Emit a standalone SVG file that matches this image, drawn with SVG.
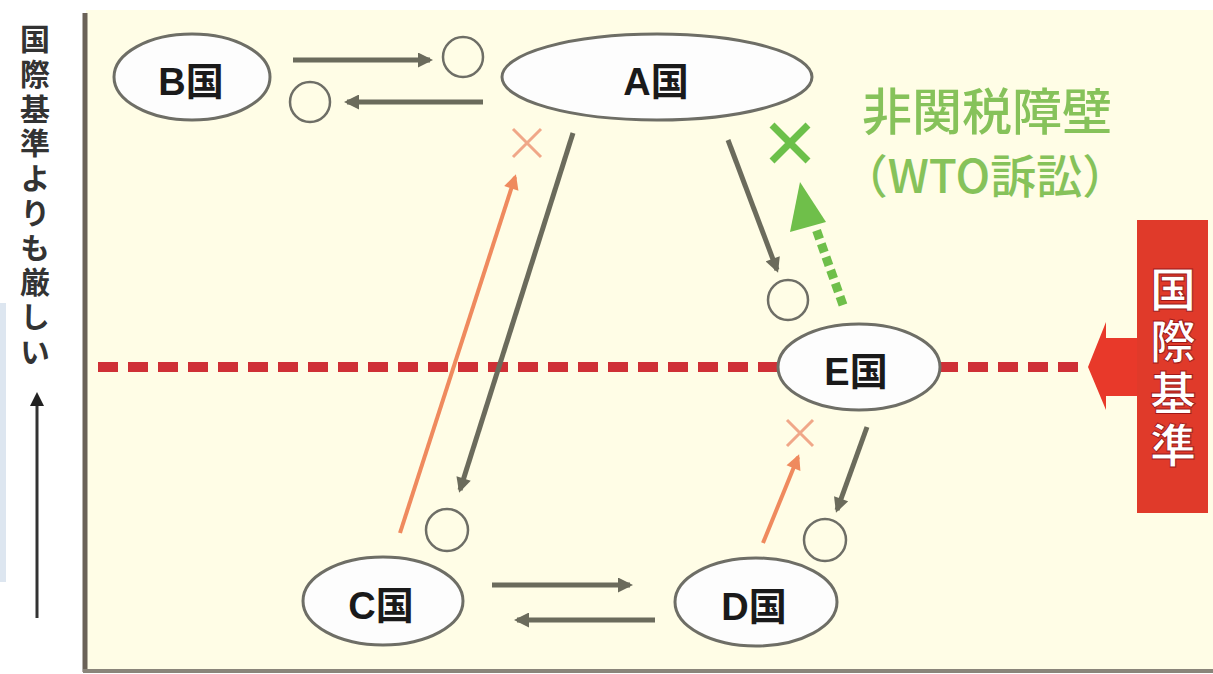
<svg xmlns="http://www.w3.org/2000/svg" width="1213" height="674" viewBox="0 0 1213 674">
<style>
.node{fill:#fdfdfd;stroke:#6e6e66;stroke-width:3}
.lbl{font-family:"Liberation Sans","Noto Sans CJK JP",sans-serif;font-size:38px;font-weight:bold;fill:#1a1a1a;text-anchor:middle}
.circ{fill:none;stroke:#6e6e66;stroke-width:2.5}
.ga{stroke:#6b6b5c;stroke-width:5;fill:none}
.oa{stroke:#ef8a5e;stroke-width:4;fill:none}
.ox{stroke:#f0a788;stroke-width:3;fill:none}
.grn{font-family:"Noto Sans CJK JP",sans-serif;font-weight:500;fill:#86c25a;text-anchor:middle}
</style>
<defs>
<marker id="ag" viewBox="0 0 10 10" refX="8" refY="5" markerWidth="16" markerHeight="15" markerUnits="userSpaceOnUse" orient="auto"><path d="M0,0 L10,5 L0,10 z" fill="#6b6b5c"/></marker>
<marker id="ao" viewBox="0 0 10 10" refX="8" refY="5" markerWidth="16" markerHeight="15" markerUnits="userSpaceOnUse" orient="auto"><path d="M0,0 L10,5 L0,10 z" fill="#ef8a5e"/></marker>
</defs>
<rect x="0" y="0" width="1213" height="674" fill="#ffffff"/>
<rect x="86" y="10" width="1127" height="662" fill="#fffde6"/>
<rect x="0" y="303" width="6" height="279" fill="#dde6f0"/>
<g id="axis">
<line x1="85" y1="13" x2="85" y2="672" stroke="#6b6257" stroke-width="5"/>
<line x1="83" y1="671" x2="1213" y2="671" stroke="#8a857a" stroke-width="4"/>
<text x="35" y="24" writing-mode="vertical-rl" font-family="Noto Sans CJK JP,sans-serif" font-size="30" font-weight="bold" letter-spacing="4.7" fill="#333">国際基準よりも厳しい</text>
<line x1="37" y1="618" x2="37" y2="400" stroke="#333" stroke-width="3"/>
<path d="M37,392 L44,406 L30,406 z" fill="#222"/>
</g>
<g id="standard-line">
<line x1="98" y1="367" x2="1088" y2="367" stroke="#cf3036" stroke-width="10" stroke-dasharray="20 10"/>
</g>
<g id="standard">
<path d="M1088,367 L1106,322 L1106,338 L1140,338 L1140,396 L1106,396 L1106,410 z" fill="#e8392a"/>
<rect x="1137" y="220" width="71" height="293" fill="#e03a2a"/>
<text x="1173" y="266" writing-mode="vertical-rl" font-family="Noto Sans CJK JP,sans-serif" font-size="46" font-weight="bold" letter-spacing="6" fill="#ffffff" stroke="#a01818" stroke-width="1">国際基準</text>
</g>
<g id="connectors">
<line class="ga" x1="293" y1="60" x2="430" y2="60" marker-end="url(#ag)"/>
<line class="ga" x1="483" y1="102" x2="347" y2="102" marker-end="url(#ag)"/>
<line class="ga" x1="573" y1="133" x2="460" y2="490" marker-end="url(#ag)"/>
<line class="ga" x1="728" y1="140" x2="777" y2="270" marker-end="url(#ag)"/>
<line class="ga" x1="867" y1="427" x2="837" y2="510" marker-end="url(#ag)"/>
<line class="ga" x1="492" y1="585" x2="630" y2="585" marker-end="url(#ag)"/>
<line class="ga" x1="655" y1="620" x2="517" y2="620" marker-end="url(#ag)"/>
<line class="oa" x1="400" y1="533" x2="515" y2="177" marker-end="url(#ao)"/>
<line class="oa" x1="763" y1="543" x2="798" y2="457" marker-end="url(#ao)"/>
<path class="ox" d="M513,129 L541,157 M541,129 L513,157"/>
<path class="ox" d="M787,420 L813,446 M813,420 L787,446"/>
<line x1="843" y1="305" x2="815" y2="226" stroke="#6fbf4a" stroke-width="9" stroke-dasharray="9 5"/>
<path d="M800,182 L826,222 L790,232 z" fill="#6fbf4a"/>
<path d="M772,125 L808,161 M808,125 L772,161" stroke="#6cc04a" stroke-width="7" fill="none"/>
</g>
<g id="circles">
<circle class="circ" cx="463" cy="57" r="20"/>
<circle class="circ" cx="310" cy="102" r="20"/>
<circle class="circ" cx="788" cy="300" r="20"/>
<circle class="circ" cx="447" cy="530" r="21"/>
<circle class="circ" cx="825" cy="540" r="21"/>
</g>
<g id="node-B"><ellipse class="node" cx="192" cy="77" rx="78" ry="43"/><text class="lbl" x="191" y="95">B国</text></g>
<g id="node-A"><ellipse class="node" cx="657" cy="77" rx="155" ry="43"/><text class="lbl" x="656" y="95">A国</text></g>
<g id="node-E"><ellipse class="node" cx="859" cy="367" rx="81" ry="43"/><text class="lbl" x="856" y="385">E国</text></g>
<g id="node-C"><ellipse class="node" cx="383" cy="601" rx="80" ry="44"/><text class="lbl" x="381" y="619">C国</text></g>
<g id="node-D"><ellipse class="node" cx="756" cy="602" rx="81" ry="44"/><text class="lbl" x="754" y="620">D国</text></g>
<g id="barrier-label">
<text class="grn" x="987" y="130" font-size="50">非関税障壁</text>
<text class="grn" x="985" y="193" font-size="46">（WTO訴訟）</text>
</g>
</svg>
